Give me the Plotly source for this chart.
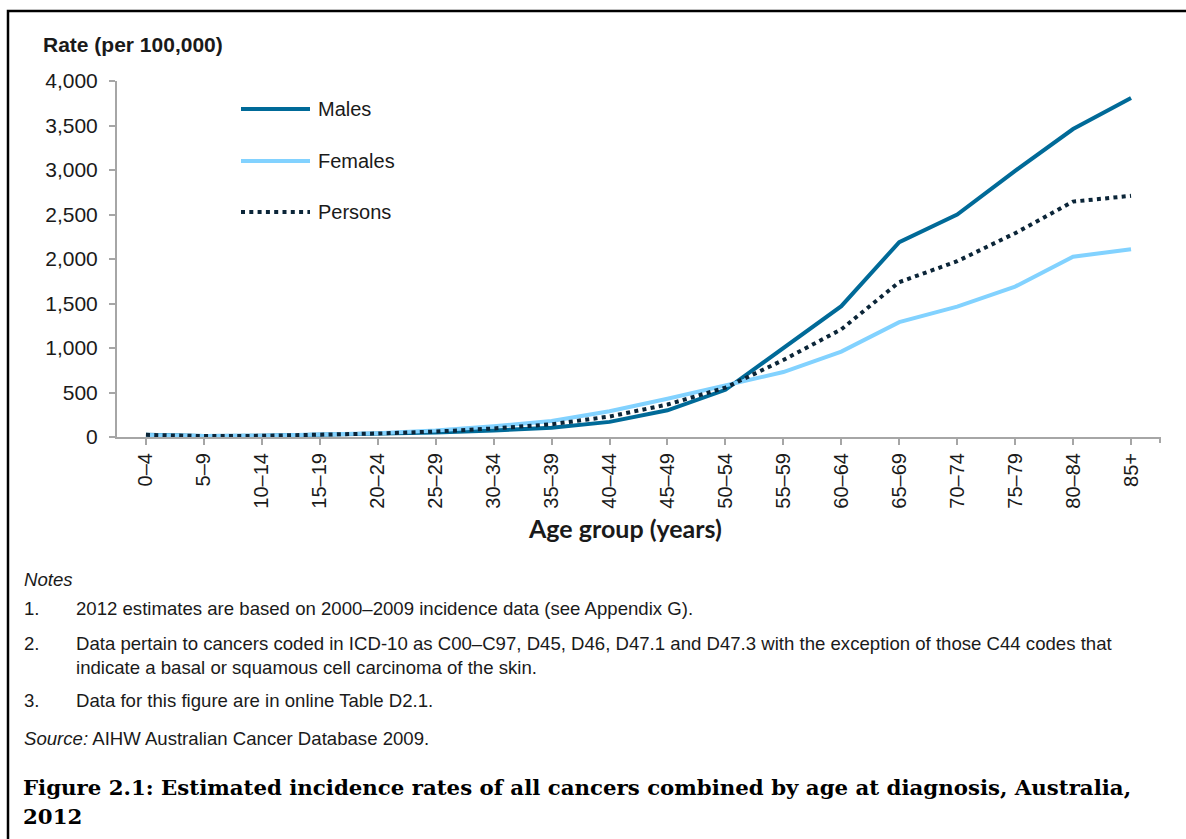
import plotly.graph_objects as go

# Age groups and incidence rates (per 100,000)
age_groups = ["0–4", "5–9", "10–14", "15–19", "20–24", "25–29", "30–34", "35–39", "40–44",
              "45–49", "50–54", "55–59", "60–64", "65–69", "70–74", "75–79", "80–84", "85+"]
males = [25, 11, 14, 24, 36, 50, 72, 105, 170, 300, 530, 1000, 1470, 2190, 2500, 2990, 3460, 3810]
females = [22, 10, 13, 22, 42, 72, 120, 180, 290, 430, 580, 730, 960, 1290, 1465, 1690, 2025, 2110]
persons = [24, 10, 13, 23, 39, 61, 96, 143, 230, 365, 555, 865, 1210, 1740, 1975, 2290, 2645, 2710]

y_ticks = [0, 500, 1000, 1500, 2000, 2500, 3000, 3500, 4000]

notes = [
    ("1.", "2012 estimates are based on 2000–2009 incidence data (see Appendix G)."),
    ("2.", "Data pertain to cancers coded in ICD-10 as C00–C97, D45, D46, D47.1 and D47.3 with the exception of those C44 codes that"),
    ("", "indicate a basal or squamous cell carcinoma of the skin."),
    ("3.", "Data for this figure are in online Table D2.1."),
]

MALE_COL = "#006a98"
FEMALE_COL = "#82d2ff"
PERSON_COL = "#0b2538"
AXIS_COL = "#a6a6a6"
TEXT_COL = "#1a1a1a"
PERSON_DASH = "4px,4.3px"

W, H = 1186, 839
L, R, T, B = 117, 1160, 81, 437   # plot area in pixels


def px_x(p):
    return (p - L) / (R - L)


def px_y(p):
    return (B - p) / (B - T)


fig = go.Figure()
fig.add_trace(go.Scatter(x=age_groups, y=males, mode="lines", name="Males",
                         line=dict(color=MALE_COL, width=4)))
fig.add_trace(go.Scatter(x=age_groups, y=females, mode="lines", name="Females",
                         line=dict(color=FEMALE_COL, width=4)))
fig.add_trace(go.Scatter(x=age_groups, y=persons, mode="lines", name="Persons",
                         line=dict(color=PERSON_COL, width=4, dash=PERSON_DASH)))

shapes = []
annotations = []

# legend drawn by hand so the long line samples match
legend_rows = [("Males", MALE_COL, "solid", 109), ("Females", FEMALE_COL, "solid", 161),
               ("Persons", PERSON_COL, PERSON_DASH, 212)]
for name, col, dash, py in legend_rows:
    shapes.append(dict(type="line", xref="paper", yref="paper",
                       x0=px_x(241), x1=px_x(310), y0=px_y(py), y1=px_y(py),
                       line=dict(color=col, width=4, dash=dash)))
    annotations.append(dict(text=name, xref="paper", yref="paper", x=px_x(316), y=px_y(py),
                            xanchor="left", yanchor="middle", showarrow=False,
                            font=dict(size=20, color=TEXT_COL)))

# outer border of the figure box
shapes.append(dict(type="rect", xref="paper", yref="paper",
                   x0=px_x(8), x1=px_x(1200), y0=px_y(11), y1=px_y(860),
                   line=dict(color="black", width=2.5), layer="below"))
# end tick on the x axis
shapes.append(dict(type="line", xref="paper", yref="paper",
                   x0=1, x1=1, y0=0, y1=px_y(443), line=dict(color=AXIS_COL, width=2)))

annotations.append(dict(text="<b>Rate (per 100,000)</b>", xref="paper", yref="paper",
                        x=px_x(41), y=px_y(45), xanchor="left", yanchor="middle",
                        showarrow=False, font=dict(size=21, color=TEXT_COL)))
annotations.append(dict(text="<b>Age group (years)</b>", xref="paper", yref="paper",
                        x=px_x(625), y=px_y(528), xanchor="center", yanchor="middle",
                        showarrow=False, font=dict(family="Lato", size=25, color=TEXT_COL)))

NOTE_SIZE = 18.6
annotations.append(dict(text="<i>Notes</i>", xref="paper", yref="paper",
                        x=px_x(22), y=px_y(579), xanchor="left", yanchor="middle",
                        showarrow=False, font=dict(size=NOTE_SIZE, color=TEXT_COL)))
note_y = [608, 643, 667, 700]
for (num, txt), py in zip(notes, note_y):
    if num:
        annotations.append(dict(text=num, xref="paper", yref="paper", x=px_x(22), y=px_y(py),
                                xanchor="left", yanchor="middle", showarrow=False,
                                font=dict(size=NOTE_SIZE, color=TEXT_COL)))
    annotations.append(dict(text=txt, xref="paper", yref="paper", x=px_x(74), y=px_y(py),
                            xanchor="left", yanchor="middle", showarrow=False,
                            font=dict(size=NOTE_SIZE, color=TEXT_COL)))
annotations.append(dict(text="<i>Source:</i> AIHW Australian Cancer Database 2009.",
                        xref="paper", yref="paper", x=px_x(22), y=px_y(738),
                        xanchor="left", yanchor="middle", showarrow=False,
                        font=dict(size=NOTE_SIZE, color=TEXT_COL)))

caption = ["Figure 2.1: Estimated incidence rates of all cancers combined by age at diagnosis, Australia,",
           "2012"]
for line, py in zip(caption, [787, 817]):
    annotations.append(dict(text="<b>" + line + "</b>", xref="paper", yref="paper",
                            x=px_x(21), y=px_y(py), xanchor="left", yanchor="middle",
                            showarrow=False,
                            font=dict(family="DejaVu Serif", size=21.3, color="black")))

fig.update_layout(
    width=W, height=H,
    margin=dict(l=L, r=W - R, t=T, b=H - B, pad=0),
    paper_bgcolor="white", plot_bgcolor="white",
    font=dict(family="Liberation Sans, Arial", size=19, color=TEXT_COL),
    showlegend=False,
    shapes=shapes,
    annotations=annotations,
    xaxis=dict(type="category", range=[-0.5, 17.5], tickangle=-90,
               showgrid=False, zeroline=False, showline=True, linecolor=AXIS_COL, linewidth=2,
               ticks="outside", ticklen=6, tickcolor=AXIS_COL, tickwidth=2,
               tickfont=dict(size=20, color=TEXT_COL)),
    yaxis=dict(range=[0, 4000], tickvals=y_ticks, tickformat=",d",
               showgrid=False, zeroline=False, showline=True, linecolor=AXIS_COL, linewidth=2,
               ticks="outside", ticklen=6, tickcolor=AXIS_COL, tickwidth=2,
               ticklabelstandoff=7,
               tickfont=dict(size=21, color=TEXT_COL)),
)

# drop the browser's default 8px body margin so the figure sits at the page origin
fig.write_html("out.html", config={"displayModeBar": False},
               post_script="document.body.style.margin='0';")
